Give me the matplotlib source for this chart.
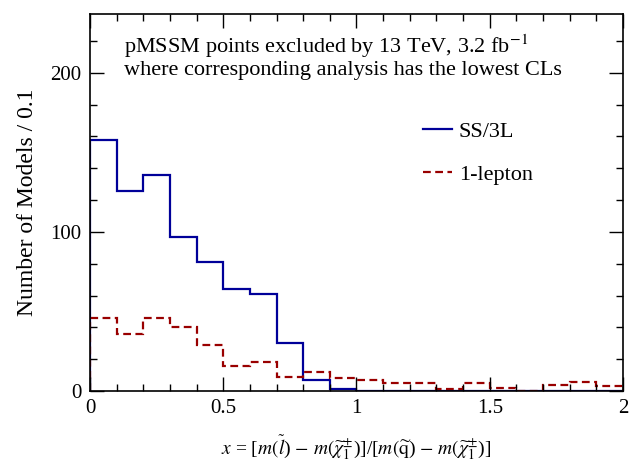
import numpy as np
import matplotlib
matplotlib.use('Agg')
import matplotlib.pyplot as plt
from matplotlib.ticker import MultipleLocator

plt.rcParams['font.family'] = ['Liberation Serif', 'DejaVu Serif']
plt.rcParams['mathtext.fontset'] = 'stix'

# histogram data, bins of width 0.1 from 0 to 2
edges = np.linspace(0, 2, 21)
ss3l = [158, 126, 136, 97, 81, 64, 61, 30, 7, 1,
        0, 0, 0, 0, 0, 0, 0, 0, 0, 0]
onelep = [46, 36, 46, 40, 29, 16, 18, 9, 12, 8,
          7, 5, 5, 1, 5, 2, 0, 4, 6, 3]

fig = plt.figure(figsize=(6.29, 4.65), dpi=100)
ax = fig.add_axes([0.143, 0.159, 0.8475, 0.811])

ax.stairs(ss3l, edges, color='#000099', lw=1.6, label='SS/3L')
ax.stairs(onelep, edges, color='#990000', lw=1.6, linestyle=(0, (3.5, 2)),
          label='1-lepton')

ax.set_xlim(0, 2)
ax.set_ylim(0, 237)
ax.xaxis.set_major_locator(MultipleLocator(0.5))
ax.xaxis.set_minor_locator(MultipleLocator(0.1))
ax.yaxis.set_major_locator(MultipleLocator(100))
ax.yaxis.set_minor_locator(MultipleLocator(20))
ax.set_xticks([0, 0.5, 1, 1.5, 2], ['0', '0.5', '1', '1.5', '2'])
ax.tick_params(which='both', direction='in', top=True, right=True,
               labelsize=15, width=1.0)
ax.tick_params(which='major', length=10, pad=6)
ax.tick_params(which='minor', length=5)
for s in ax.spines.values():
    s.set_linewidth(1.2)

ax.set_ylabel('Number of Models / 0.1', fontsize=17, labelpad=9)
ax.set_xlabel(r'$x$ = [$m(\widetilde{l}$) $-$ $m(\widetilde{\chi}^{\pm}_{1}$)]/[$m(\widetilde{\mathrm{q}}$) $-$ $m(\widetilde{\chi}^{\pm}_{1}$)]',
              fontsize=14, labelpad=11)

ax.text(0.063, 0.8966, r'pMSSM points excluded by 13 TeV, 3.2 fb$^{-1}$',
        transform=ax.transAxes, fontsize=16, va='baseline')
ax.text(0.063, 0.838, 'where corresponding analysis has the lowest CLs',
        transform=ax.transAxes, fontsize=16, va='baseline')

ax.legend(loc='upper left', bbox_to_anchor=(0.625, 0.715), frameon=False,
          fontsize=16, handlelength=1.3, handletextpad=0.3, labelspacing=1.0,
          borderpad=0, borderaxespad=0)

fig.savefig('out.png', dpi=100)
